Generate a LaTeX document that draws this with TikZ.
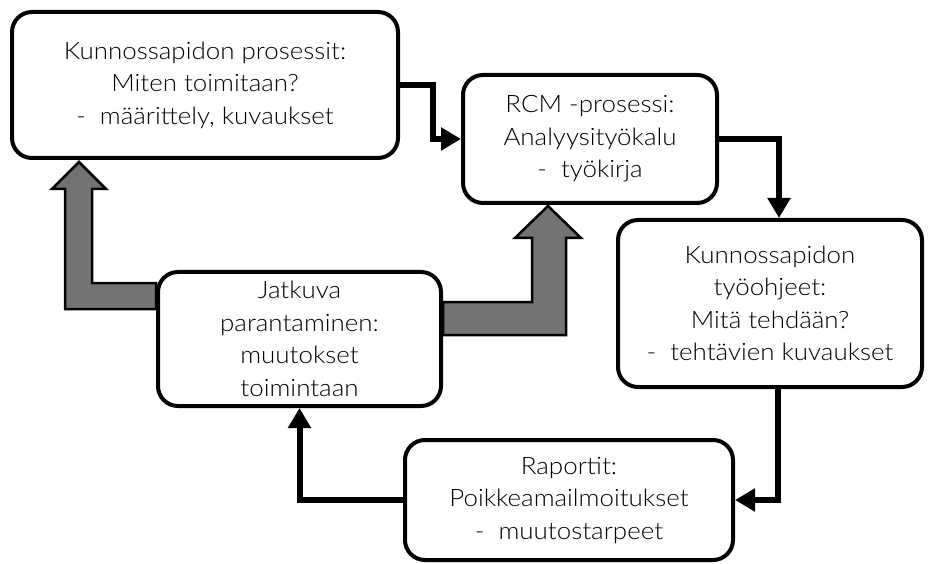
\documentclass[tikz,border=0pt]{standalone}
\usepackage{fontspec}
\setmainfont{Lato Light}[FakeStretch=1.08]
\usetikzlibrary{arrows.meta,calc}
\begin{document}
\begin{tikzpicture}[x=1pt,y=-1pt,
  box/.style={draw, line width=4pt, rounded corners=20pt, align=center,
    inner sep=0pt, fill=white, font=\fontsize{24}{32.5}\selectfont},
  link/.style={line width=6pt, -{Triangle[length=20pt,width=22pt]}},
  fat/.style={draw=black, line width=2.5pt, fill=black!55, line join=miter}]
\useasboundingbox (0,0) rectangle (932,564);

% process boxes
\node[box, minimum width=386pt, minimum height=146pt] (A) at (205,85)
  {Kunnossapidon prosessit:\\Miten toimitaan?\\-\ \ määrittely, kuvaukset};
\node[box, minimum width=254pt, minimum height=128pt] (B) at (590,139)
  {RCM -prosessi:\\Analyysityökalu\\-\ \ työkirja};
\node[box, minimum width=304pt, minimum height=167pt] (C) at (770,303.5)
  {Kunnossapidon\\työohjeet:\\Mitä tehdään?\\-\ \ tehtävien kuvaukset};
\node[box, minimum width=283pt, minimum height=134pt] (D) at (299.5,339)
  {Jatkuva\\parantaminen:\\muutokset\\toimintaan};
\node[box, minimum width=328pt, minimum height=120pt] (E) at (569,500)
  {Raportit:\\Poikkeamailmoitukset\\-\ \ muutostarpeet};

% main cycle
\draw[link] (A.east) -- ++(33,0) |- (B.west);
\draw[link] (B.east) -| ($(C.north)+(9,0)$);
\draw[link] ($(C.south)+(8,0)$) |- (E.east);
\draw[link] (E.west) -| (D.south);

% improvement feedback (broad arrows)
\draw[fat] ($(D.west)+(0,-56)$) -- ++(-64,0) -- ++(0,-94) -- ++(14,0)
  -- ++(-27,-27) -- ++(-27,27) -- ++(13,0) -- ++(0,120) -- ++(91,0) -- cycle;
\draw[fat] ($(D.east)+(0,-37)$) -- ++(89,0) -- ++(0,-64) -- ++(-17,0)
  -- ++(33,-32) -- ++(33,32) -- ++(-15,0) -- ++(0,97) -- ++(-123,0) -- cycle;
\end{tikzpicture}
\end{document}
